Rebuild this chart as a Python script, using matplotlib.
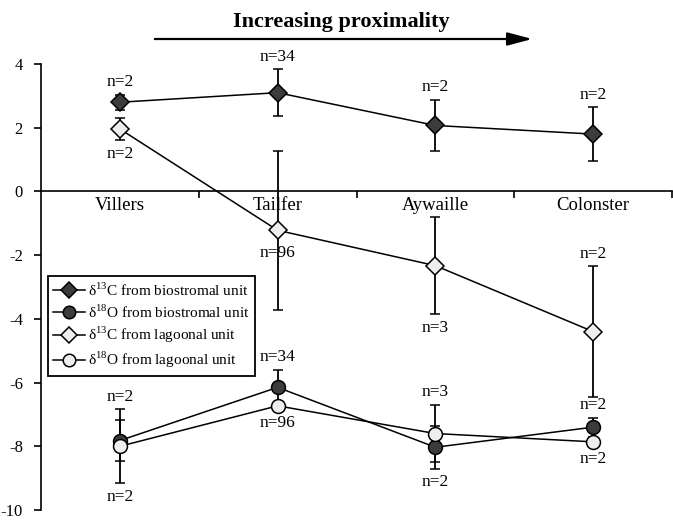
import matplotlib
matplotlib.use('Agg')
import matplotlib.pyplot as plt
from matplotlib.lines import Line2D
from matplotlib.patches import FancyArrowPatch

plt.rcParams['font.family'] = ['Liberation Serif', 'DejaVu Serif']
plt.rcParams['mathtext.fontset'] = 'custom'
plt.rcParams['mathtext.rm'] = 'Liberation Serif'
plt.rcParams['axes.unicode_minus'] = False

# --- data ---
sites = ['Villers', 'Tailfer', 'Aywaille', 'Colonster']

c13_bio = [2.8, 3.1, 2.07, 1.8]
c13_bio_err = [0.23, 0.74, 0.81, 0.84]
o18_bio = [-7.82, -6.15, -8.03, -7.4]
o18_bio_err = [0.65, 0.55, 0.67, 0.3]
c13_lag = [1.96, -1.22, -2.33, -4.4]
c13_lag_err = [0.36, 2.5, 1.53, 2.05]
o18_lag = [-8.0, -6.73, -7.6, -7.86]
o18_lag_err = [1.16, 0.1, 0.9, 0.1]

# sample counts: (series, site index, text, where)
n_labels = [
    ('c13_bio', 0, 'n=2', 'above'), ('c13_bio', 1, 'n=34', 'above'),
    ('c13_bio', 2, 'n=2', 'above'), ('c13_bio', 3, 'n=2', 'above'),
    ('c13_lag', 0, 'n=2', 'below'), ('c13_lag', 1, 'n=96', 'marker'),
    ('c13_lag', 2, 'n=3', 'below'), ('c13_lag', 3, 'n=2', 'above'),
    ('o18_lag', 0, 'n=2', 'above'), ('o18_lag', 0, 'n=2', 'below'),
    ('o18_bio', 1, 'n=34', 'above'), ('o18_lag', 1, 'n=96', 'below'),
    ('o18_lag', 2, 'n=3', 'above'), ('o18_bio', 2, 'n=2', 'below'),
    ('o18_bio', 3, 'n=2', 'above'), ('o18_lag', 3, 'n=2', 'below'),
]

series = {
    'c13_bio': (c13_bio, c13_bio_err, 'D', '#3c3c3c', r'δ$^{13}$C from biostromal unit'),
    'o18_bio': (o18_bio, o18_bio_err, 'o', '#3c3c3c', r'δ$^{18}$O from biostromal unit'),
    'c13_lag': (c13_lag, c13_lag_err, 'D', '#eeeeee', r'δ$^{13}$C from lagoonal unit'),
    'o18_lag': (o18_lag, o18_lag_err, 'o', '#eeeeee', r'δ$^{18}$O from lagoonal unit'),
}

fig = plt.figure(figsize=(6.73, 5.20), dpi=100)
ax = fig.add_axes([41 / 673, 10 / 520, 631 / 673, 446 / 520])

x = list(range(len(sites)))
handles = []
for key, (vals, errs, mk, fc, lab) in series.items():
    ms = 9 if mk == 'D' else 10
    ax.errorbar(x, vals, yerr=errs, fmt='-', color='black', lw=1.1,
                marker=mk, ms=ms, mfc=fc, mec='black', mew=1.1,
                ecolor='black', elinewidth=1.3, capsize=3.3, capthick=1.3)
    handles.append(Line2D([], [], color='black', lw=1.1, marker=mk, ms=ms - 1,
                          mfc=fc, mec='black', mew=1.1, label=lab))

for key, i, txt, where in n_labels:
    vals, errs = series[key][0], series[key][1]
    if where == 'above':
        y, dy = vals[i] + errs[i], 9
    elif where == 'below':
        y, dy = vals[i] - errs[i], -10
    else:
        y, dy = vals[i], -16
    ax.annotate(txt, (i, y), xytext=(0, dy), textcoords='offset points',
                ha='center', va='center', fontsize=12.5)

ax.set_xlim(-0.5, 3.5)
ax.set_ylim(-10, 4)
ax.set_yticks(range(-10, 5, 2))
ax.spines['top'].set_visible(False)
ax.spines['right'].set_visible(False)
ax.spines['bottom'].set_position(('data', 0))
ax.spines['left'].set_linewidth(1.2)
ax.spines['bottom'].set_linewidth(1.2)

ax.set_xticks(x)
ax.set_xticklabels(sites, fontsize=13.5)
ax.set_xticks([0.5, 1.5, 2.5, 3.5], minor=True)
ax.tick_params(axis='x', which='major', length=0, pad=4)
ax.tick_params(axis='x', which='minor', length=5, width=1.2, direction='out')
ax.tick_params(axis='y', length=5, width=1.2, labelsize=12, pad=8)

leg = ax.legend(handles=handles, loc='upper left',
                bbox_to_anchor=(48 / 673, 1 - 276 / 520),
                bbox_transform=fig.transFigure, fontsize=11, frameon=True,
                fancybox=False, handlelength=2.1, handletextpad=0.15,
                labelspacing=0.3, borderpad=0.35, borderaxespad=0)
leg.get_frame().set_edgecolor('black')
leg.get_frame().set_linewidth(1.3)
leg.get_frame().set_alpha(1)

# title and arrow above the axes
fig.text(341 / 673, 1 - 22 / 520, 'Increasing proximality', ha='center',
         va='center', fontsize=16, fontweight='bold')
fig.patches.append(FancyArrowPatch(
    (152 / 673, 1 - 39 / 520), (535 / 673, 1 - 39 / 520),
    transform=fig.transFigure, arrowstyle='-|>,head_length=1.5,head_width=0.4',
    mutation_scale=10, color='black', lw=1.6))

fig.savefig('out.png', dpi=100)
